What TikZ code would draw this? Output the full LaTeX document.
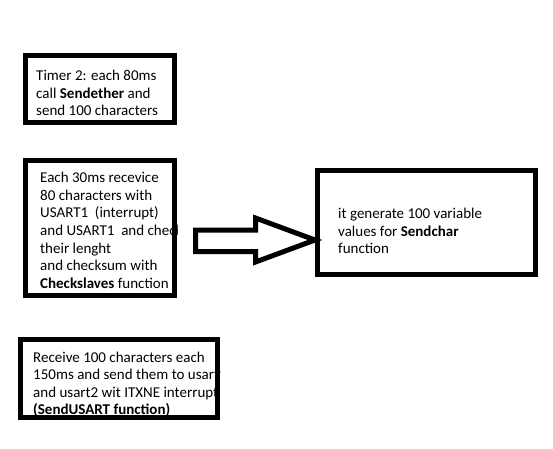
\documentclass[tikz,border=0pt]{standalone}
\usepackage{fontspec}
\setmainfont{Carlito}
\begin{document}
\begin{tikzpicture}[x=1pt,y=1pt,
  boxline/.style={draw=black,line width=5pt,inner sep=0pt,outer sep=0pt},
  txt/.style={anchor=north west,inner sep=0pt,align=left,font=\fontsize{15}{17.6}\selectfont}]
\useasboundingbox[fill=white] (0,0) rectangle (553,448);
% box 1
\begin{scope}
\clip (23,395) rectangle (177,323);
\node[txt] (t1) at (36,378) {Timer 2: each 80ms\\call \textbf{Sendether} and\\send 100 characters};
\end{scope}
\node[boxline,minimum width=149pt,minimum height=67pt] (b1) at (100,359) {};
% box 2
\begin{scope}
\clip (23,290) rectangle (177,150);
\node[txt] (t2) at (40,276) {Each 30ms recevice\\80 characters with\\USART1~ (interrupt)\\and USART1~ and check\\their lenght\\and checksum with\\\textbf{Checkslaves} function};
\end{scope}
\node[boxline,minimum width=149pt,minimum height=135pt] (b2) at (100,220) {};
% box 3
\node[txt] (t3) at (338,240) {it generate 100 variable\\values for \textbf{Sendchar}\\function};
\node[boxline,minimum width=218pt,minimum height=104pt] (b3) at (426.5,225.5) {};
% box 4
\begin{scope}
\clip (18,111) rectangle (220,28);
\node[txt] (t4) at (33,96.5) {Receive 100 characters each\\150ms and send them to usart1\\and usart2 wit ITXNE interrupt\\\textbf{(SendUSART function)}};
\end{scope}
\node[boxline,minimum width=197pt,minimum height=78pt] (b4) at (119,69.5) {};
% block arrow from b2 to b3
\coordinate (a0) at ([xshift=21pt,yshift=-2pt]b2.east);
\coordinate (tip) at ([xshift=-2.5pt,yshift=-17.5pt]b3.west);
\draw[line width=5pt,line join=miter]
  (a0) -- ++(60,0) -- ++(0,12) -- (tip)
  -- ([xshift=-59.5pt,yshift=-22pt]tip) -- ++(0,10.5) -- ([yshift=-21.5pt]a0) -- cycle;
\end{tikzpicture}
\end{document}
